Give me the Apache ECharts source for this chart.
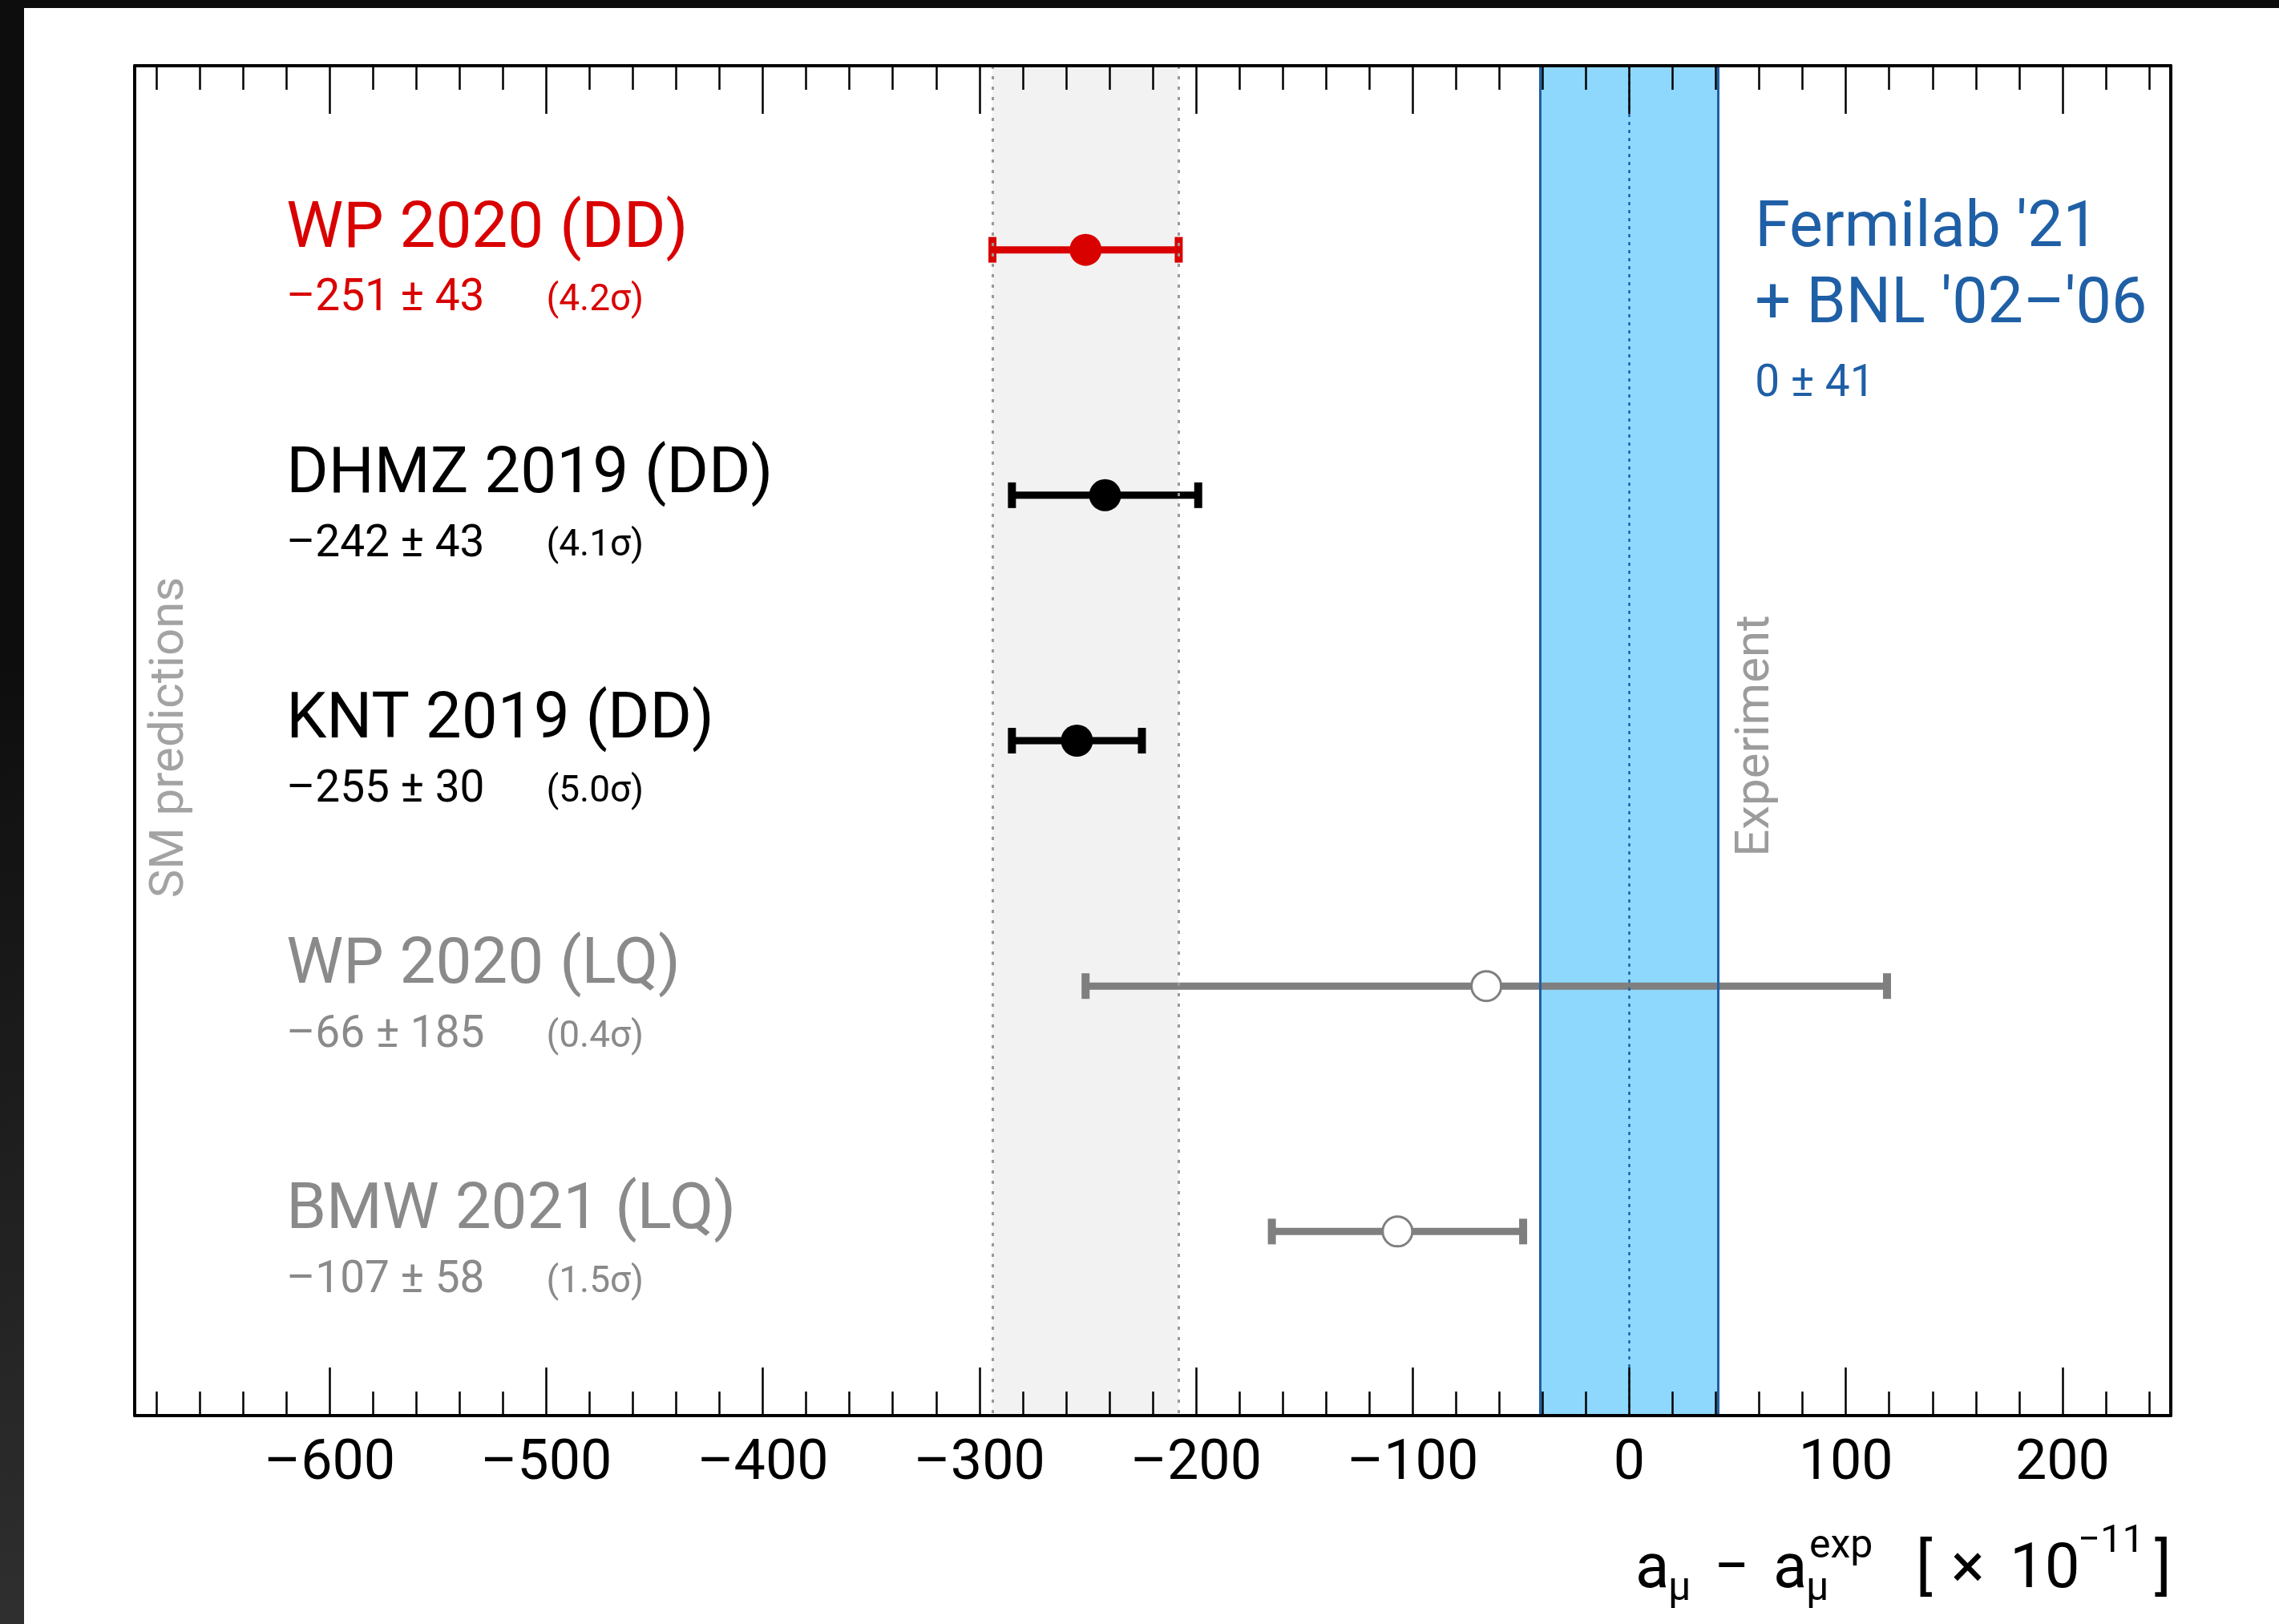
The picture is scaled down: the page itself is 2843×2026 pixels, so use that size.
<!DOCTYPE html>
<html>
<head>
<meta charset="utf-8">
<title>a_mu comparison</title>
<style>
html, body { margin: 0; padding: 0; background: #fff; overflow: hidden; }
#chart { position: absolute; left: 0; top: 0; width: 2843px; height: 2026px; background: #fff; }
.edge-top { position: absolute; left: 0; top: 0; width: 2843px; height: 10px; background: #0d0d0d; }
.edge-left { position: absolute; left: 0; top: 0; width: 30px; height: 2026px; background: linear-gradient(#0d0d0d 40%, #2f2f2f); }
</style>
<script src="https://cdn.jsdelivr.net/npm/echarts@6/dist/echarts.min.js"></script>
</head>
<body>
<div id="chart"></div>
<div class="edge-top"></div>
<div class="edge-left"></div>
<script type="text/javascript">

// data
var rowNames  = ['WP 2020 (DD)', 'DHMZ 2019 (DD)', 'KNT 2019 (DD)', 'WP 2020 (LQ)', 'BMW 2021 (LQ)'];
var rowValues = [-251, -242, -255, -66, -107];
var rowErrors = [43, 43, 30, 185, 58];
var rowSigmas = ['4.2σ', '4.1σ', '5.0σ', '0.4σ', '1.5σ'];

var expLines = ["Fermilab '21", "+ BNL '02\u2013'06"];
var expValue = 0;
var expError = 41;

var majorTicks = [-600, -500, -400, -300, -200, -100, 0, 100, 200];

// styles
var FONT = 'Roboto, "Liberation Sans", sans-serif';
var markColors = ['#d90000', '#000000', '#000000', '#7f7f7f', '#7f7f7f'];
var textColors = ['#d90000', '#000000', '#000000', '#8a8a8a', '#8a8a8a'];
var openMarker = [false, false, false, true, true];
var BLUE = '#1f5fa6';
var LABEL_X = -620;   // where the row labels start (axis units)
var SIGMA_X = -500;
var EXP_X = 58;

var minorTicks = [];
for (var v = -680; v <= 240; v += 20) {
	if (v % 100 !== 0) minorTicks.push(v);
}

function dash(v) {
	return v < 0 ? '\u2013' + Math.abs(v) : String(v);
}

var rowData = [];
for (var i = 0; i < rowNames.length; i++) {
	rowData.push([rowValues[i], rowErrors[i], i + 1]);
}

var wpLo = rowValues[0] - rowErrors[0];
var wpHi = rowValues[0] + rowErrors[0];

function renderRow(params, api) {
	var i = params.dataIndex;
	var c = api.value(0), e = api.value(1), r = api.value(2);
	var p = api.coord([c, r]);
	var lo = api.coord([c - e, r]);
	var hi = api.coord([c + e, r]);
	var t = api.coord([LABEL_X, r]);
	var s = api.coord([SIGMA_X, r]);
	var col = markColors[i];
	var tcol = textColors[i];
	return {
		type: 'group',
		children: [
			{ type: 'line', shape: { x1: lo[0], y1: p[1], x2: hi[0], y2: p[1] }, style: { stroke: col, lineWidth: 9 } },
			{ type: 'rect', shape: { x: lo[0] - 5, y: p[1] - 16, width: 10, height: 32 }, style: { fill: col } },
			{ type: 'rect', shape: { x: hi[0] - 5, y: p[1] - 16, width: 10, height: 32 }, style: { fill: col } },
			openMarker[i]
				? { type: 'circle', shape: { cx: p[0], cy: p[1], r: 18.5 }, style: { fill: '#fff', stroke: col, lineWidth: 3 } }
				: { type: 'circle', shape: { cx: p[0], cy: p[1], r: 20 }, style: { fill: col } },
			{ type: 'text', style: { text: rowNames[i], x: t[0], y: p[1] - 24, fill: tcol,
				font: '80px ' + FONT, align: 'left', verticalAlign: 'middle' } },
			{ type: 'text', style: { text: dash(rowValues[i]) + ' \u00b1 ' + rowErrors[i], x: t[0], y: p[1] + 62, fill: tcol,
				font: '55px ' + FONT, align: 'left', verticalAlign: 'middle' } },
			{ type: 'text', style: { text: '(' + rowSigmas[i] + ')', x: s[0], y: p[1] + 64, fill: tcol,
				font: '46px ' + FONT, align: 'left', verticalAlign: 'middle' } }
		]
	};
}

function renderExp(params, api) {
	var a = api.coord([EXP_X, 1]);
	return {
		type: 'group',
		children: [
			{ type: 'text', style: { text: expLines[0], x: a[0], y: a[1] - 24, fill: BLUE, font: '79px ' + FONT, verticalAlign: 'middle' } },
			{ type: 'text', style: { text: expLines[1], x: a[0], y: a[1] + 71, fill: BLUE, font: '79px ' + FONT, verticalAlign: 'middle' } },
			{ type: 'text', style: { text: dash(expValue) + ' \u00b1 ' + expError, x: a[0], y: a[1] + 169, fill: BLUE, font: '55px ' + FONT, verticalAlign: 'middle' } }
		]
	};
}

function xAx(pos, ticks, len, withLine, withLabel) {
	return {
		type: 'value', position: pos, min: -690, max: 250, z: 10,
		axisLine: { show: withLine, onZero: false, lineStyle: { color: '#000', width: 4 } },
		axisTick: { show: true, inside: true, length: len, customValues: ticks, lineStyle: { color: '#000', width: 2.5 } },
		axisLabel: { show: withLabel, customValues: ticks, margin: 26, fontSize: 70, fontFamily: FONT, color: '#000', formatter: dash },
		splitLine: { show: false }
	};
}

function yAx(pos) {
	return {
		type: 'value', position: pos, min: 0.25, max: 5.75, inverse: true, z: 10,
		axisLine: { show: true, onZero: false, lineStyle: { color: '#000', width: 4 } },
		axisTick: { show: false }, axisLabel: { show: false }, splitLine: { show: false }
	};
}

function txt(s, x, y, size, color, rot) {
	return { type: 'text', x: x, y: y, rotation: rot || 0, z: 20,
		style: { text: s, fill: color || '#000', font: size + 'px ' + FONT, align: rot ? 'center' : 'left', verticalAlign: 'middle' } };
}

var myChart = echarts.init(document.getElementById('chart'));

var option = {
	animation: false,
	backgroundColor: '#fff',
	grid: { left: 168, top: 82, right: 135, bottom: 260, containLabel: false },
	xAxis: [
		xAx('bottom', majorTicks, 60, true, true),
		xAx('bottom', minorTicks, 30, false, false),
		xAx('top', majorTicks, 60, true, false),
		xAx('top', minorTicks, 30, false, false)
	],
	yAxis: [yAx('left'), yAx('right')],
	graphic: [
		txt('SM predictions', 213, 920, 60, '#a3a3a3', Math.PI / 2),
		txt('Experiment', 2191, 918, 60, '#9c9c9c', Math.PI / 2),
		// axis title
		txt('a', 2040, 1960, 78),
		txt('\u03bc', 2081, 1983, 50),
		txt('\u2212', 2138, 1960, 78),
		txt('a', 2212, 1960, 78),
		txt('\u03bc', 2253, 1983, 50),
		txt('exp', 2257, 1930, 50),
		txt('[', 2390, 1960, 78),
		txt('\u00d7', 2434, 1960, 78),
		txt('10', 2507, 1960, 78),
		txt('\u221211', 2592, 1924, 49),
		txt(']', 2688, 1960, 78)
	],
	series: [
		{
			name: 'experiment',
			type: 'custom',
			z: 1,
			silent: true,
			renderItem: renderExp,
			data: [[expValue, expError, 1]],
			encode: { x: 0, y: 2 },
			markArea: {
				silent: true,
				data: [
					[{ xAxis: wpLo, itemStyle: { color: '#f2f2f2' } }, { xAxis: wpHi }],
					[{ xAxis: expValue - expError, itemStyle: { color: '#8fd8fd' } }, { xAxis: expValue + expError }]
				]
			},
			markLine: {
				silent: true,
				symbol: ['none', 'none'],
				label: { show: false },
				data: [
					{ xAxis: wpLo, lineStyle: { color: '#999', width: 3, type: [4, 9] } },
					{ xAxis: wpHi, lineStyle: { color: '#999', width: 3, type: [4, 9] } },
					{ xAxis: expValue - expError, lineStyle: { color: BLUE, width: 3, type: 'solid' } },
					{ xAxis: expValue + expError, lineStyle: { color: BLUE, width: 3, type: 'solid' } },
					{ xAxis: expValue, lineStyle: { color: BLUE, width: 2.5, type: [4, 6] } }
				]
			}
		},
		{
			name: 'predictions',
			type: 'custom',
			z: 3,
			silent: true,
			renderItem: renderRow,
			data: rowData,
			encode: { x: 0, y: 2 }
		}
	]
};

if (option && typeof option === "object") {
	myChart.setOption(option, true);
}
</script>
</body>
</html>
